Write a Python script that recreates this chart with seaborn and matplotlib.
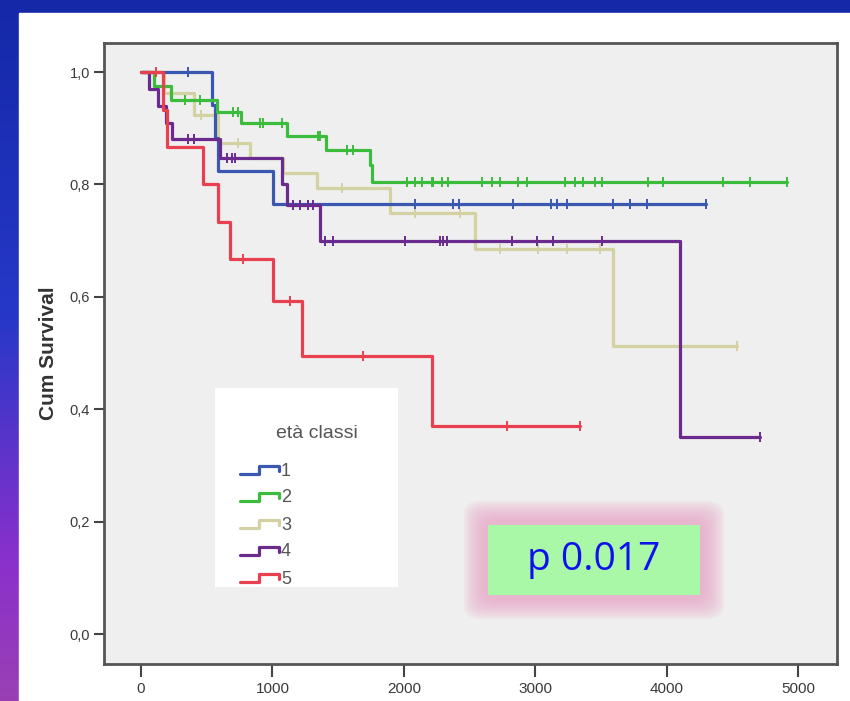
"""
Kaplan-Meier curves by age class (età classi) with p-value box
"""
import matplotlib
matplotlib.use("Agg")
import matplotlib.pyplot as plt
from matplotlib.colors import LinearSegmentedColormap
from matplotlib.patches import Rectangle, FancyBboxPatch
from matplotlib.ticker import FuncFormatter
import numpy as np
import pandas as pd
import seaborn as sns

# ---- data ----
groups = ["1", "2", "3", "4", "5"]
colors = {"1": "#3a58b0", "2": "#3cbc3c", "3": "#d4d2a2", "4": "#6a2a8e", "5": "#e8404e"}

t1 = [0, 540, 560, 585, 1005]
s1 = [1.0, 0.941, 0.882, 0.824, 0.765]
end1 = 4300
c1 = [358, 2085, 2375, 2420, 2830, 3120, 3165, 3240, 3590, 3720, 3850, 4300]

t2 = [0, 100, 230, 580, 760, 1110, 1410, 1740, 1760]
s2 = [1.0, 0.975, 0.95, 0.929, 0.909, 0.887, 0.862, 0.835, 0.804]
end2 = 4920
c2 = [335, 450, 700, 738, 905, 928, 1073, 1347, 1362, 1568, 1613, 2024, 2085, 2138,
      2215, 2222, 2290, 2336, 2595, 2671, 2732, 2869, 2937, 3227, 3303, 3364, 3455,
      3508, 3858, 3973, 4429, 4635, 4920]

t3 = [0, 175, 400, 586, 830, 1080, 1340, 1895, 2540, 3590]
s3 = [1.0, 0.962, 0.923, 0.874, 0.847, 0.82, 0.794, 0.75, 0.685, 0.513]
end3 = 4535
c3 = [460, 740, 1530, 2085, 2428, 2732, 3021, 3242, 3493, 4535]

t4 = [0, 60, 130, 190, 236, 600, 1073, 1111, 1360, 4100]
s4 = [1.0, 0.97, 0.94, 0.91, 0.88, 0.847, 0.80, 0.763, 0.70, 0.35]
end4 = 4710
c4 = [360, 400, 655, 690, 715, 1157, 1210, 1271, 1309, 1400, 1461, 2009, 2275, 2298,
      2329, 2823, 3014, 3135, 3508, 4710]

t5 = [0, 165, 200, 470, 585, 680, 1005, 1225, 2215]
s5 = [1.0, 0.933, 0.867, 0.80, 0.733, 0.667, 0.593, 0.494, 0.37]
end5 = 3340
c5 = [110, 776, 1134, 1690, 2785, 3340]

x_ticks = [0, 1000, 2000, 3000, 4000, 5000]
y_ticks = [0.0, 0.2, 0.4, 0.6, 0.8, 1.0]
legend_title = "età classi"
p_text = "p 0.017"

curves = {
    "1": (t1, s1, end1, c1),
    "2": (t2, s2, end2, c2),
    "3": (t3, s3, end3, c3),
    "4": (t4, s4, end4, c4),
    "5": (t5, s5, end5, c5),
}


def km_frames(g):
    t, s, end, cens = curves[g]
    steps = pd.DataFrame({"time": list(t) + [end], "surv": list(s) + [s[-1]]})
    # survival level at each censor time, from the step function
    idx = np.searchsorted(np.asarray(t), np.asarray(cens), side="right") - 1
    marks = pd.DataFrame({"time": cens, "surv": np.asarray(s)[idx]})
    return steps, marks


sns.set_style("white")
plt.rcParams["font.family"] = ["Liberation Sans", "DejaVu Sans"]

W, H = 850, 701
fig = plt.figure(figsize=(W / 100, H / 100), dpi=100)

# slide background: blue -> purple gradient, white panel
bg = fig.add_axes([0, 0, 1, 1], zorder=-10)
bg.set_axis_off()
cmap = LinearSegmentedColormap.from_list(
    "slide", [(0.0, "#1428a8"), (0.45, "#2638c8"), (0.8, "#8a30cc"), (1.0, "#9a40b4")])
grad = np.linspace(0, 1, 256).reshape(-1, 1)
bg.imshow(grad, cmap=cmap, aspect="auto", extent=[0, 1, 0, 1], origin="upper")
bg.add_patch(Rectangle((19 / W, 0), 1, (H - 13) / H, color="white", transform=bg.transAxes))
bg.set_xlim(0, 1)
bg.set_ylim(0, 1)

ax = fig.add_axes([104 / W, (H - 664) / H, (837 - 104) / W, (664 - 43) / H])
ax.set_facecolor("#efefef")

for g in ["3", "1", "2", "4", "5"]:
    steps, marks = km_frames(g)
    sns.lineplot(data=steps, x="time", y="surv", ax=ax, color=colors[g],
                 drawstyle="steps-post", linewidth=2.3, estimator=None, legend=False)
    sns.scatterplot(data=marks, x="time", y="surv", ax=ax, color=colors[g],
                    marker="|", s=60, linewidth=1.4, legend=False, zorder=3)

ax.set_xlim(-282, 5297)
ax.set_ylim(-0.053, 1.0516)
ax.set_xticks(x_ticks)
ax.set_yticks(y_ticks)
ax.yaxis.set_major_formatter(FuncFormatter(lambda v, p: f"{v:.1f}".replace(".", ",")))
ax.tick_params(axis="x", direction="out", length=9, width=1.5, color="#444444",
               labelsize=11, labelcolor="#3a3a3a", pad=4, bottom=True)
ax.tick_params(axis="y", direction="out", length=7, width=1.5, color="#444444",
               labelsize=10.5, labelcolor="#3a3a3a", pad=3, left=True)
for lab in ax.get_xticklabels() + ax.get_yticklabels():
    lab.set_family(["Liberation Sans Narrow", "Liberation Sans", "DejaVu Sans"])
for sp in ax.spines.values():
    sp.set_visible(True)
    sp.set_color("#555555")
    sp.set_linewidth(2.0)
ax.set_xlabel("")
ax.set_ylabel("Cum Survival", fontsize=15, fontweight="bold", color="#333333", labelpad=8)

# legend box drawn as its own small axes
lg = fig.add_axes([215 / W, (H - 587) / H, (398 - 215) / W, (587 - 388) / H])
lg.set_xlim(0, 183)
lg.set_ylim(199, 0)
lg.set_facecolor("white")
for sp in lg.spines.values():
    sp.set_visible(False)
lg.set_xticks([])
lg.set_yticks([])
lg.text(102, 45, legend_title, ha="center", va="center", fontsize=14, color="#555555",
        family=["Liberation Sans Narrow", "Liberation Sans", "DejaVu Sans"])
icon_x = np.array([25, 44, 44, 64, 64])
icon_dy = np.array([4, 4, -4, -4, 1])
for i, g in enumerate(groups):
    yc = 82 + 27 * i
    lg.plot(icon_x, yc + icon_dy, color=colors[g], linewidth=2.3)
    lg.text(66, yc + 1, g, ha="left", va="center", fontsize=13, color="#555555",
            family=["Liberation Sans Narrow", "Liberation Sans", "DejaVu Sans"])

# p-value box with pink glow
bx0, bx1, by0, by1 = 488, 700, 525, 595
for k in range(10):
    pad = 24 - 2.2 * k
    glow = FancyBboxPatch(((bx0 - pad) / W, (H - by1 - pad) / H),
                          (bx1 - bx0 + 2 * pad) / W, (by1 - by0 + 2 * pad) / H,
                          boxstyle="round,pad=0,rounding_size=0.02",
                          transform=fig.transFigure, facecolor="#e8a6c8",
                          edgecolor="none", alpha=0.13, zorder=5)
    fig.patches.append(glow)
fig.patches.append(Rectangle((bx0 / W, (H - by1) / H), (bx1 - bx0) / W, (by1 - by0) / H,
                             transform=fig.transFigure, facecolor="#a8f8a8",
                             edgecolor="none", zorder=6))
fig.text((bx0 + bx1) / 2 / W, (H - (by0 + by1) / 2) / H, p_text, ha="center", va="center",
         fontsize=28, color="#1010ee", zorder=7, family=["Open Sans", "DejaVu Sans"])

fig.savefig("out.png", dpi=100)
